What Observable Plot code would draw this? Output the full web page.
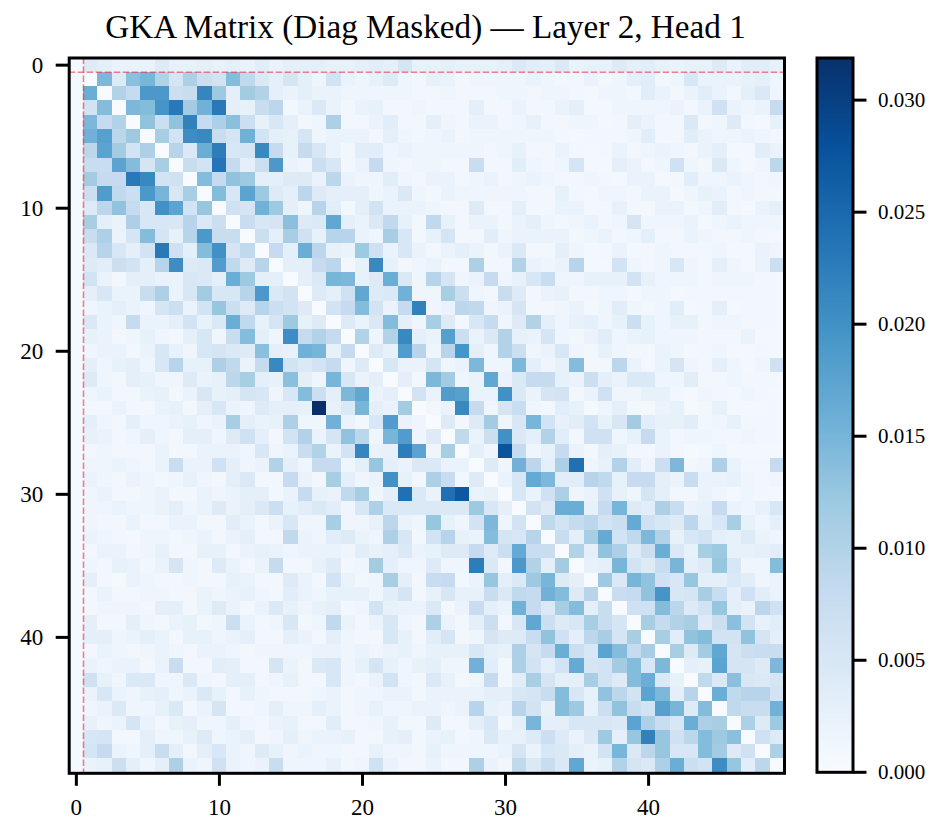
<!DOCTYPE html>
<html><head><meta charset="utf-8">
<script src="https://cdn.jsdelivr.net/npm/d3@7"></script>
<script src="https://cdn.jsdelivr.net/npm/@observablehq/plot@0.6"></script>
<style>
html,body{margin:0;padding:0;background:#fff}
#wrap{width:937px;height:827px;position:relative;overflow:hidden;font-family:"Liberation Serif",serif}
#title{position:absolute;z-index:2;left:0;top:0;width:851px;height:50px;text-align:center;font-size:33.2px;line-height:54px;color:#000;white-space:nowrap}
#row{position:absolute;left:0;top:40px;display:flex}
svg{display:block}
</style></head><body>
<div id="wrap"><div id="title"></div><div id="row"></div></div>
<script>
const titleText = "GKA Matrix (Diag Masked) — Layer 2, Head 1";
const unit = 0.001;
const vmax = 0.03188;
const xTicks = [0,10,20,30,40];
const yTicks = [0,10,20,30,40];
const cbTicks = [0,0.005,0.01,0.015,0.02,0.025,0.03];
const blues = ["#f7fbff","#deebf7","#c6dbef","#9ecae1","#6baed6","#4292c6","#2171b5","#08519c","#08306b"];
const guide = 0.5;

const r00=[.6,4,3,2,2,2,4,2.5,2.5,3,2.5,3,2,3.5,2,3,3,3,2.5,2.5,3,3.5,3,5.5,2.5,2.5,3,2.5,2.5,2.5,3,4.5,3.5,3,4.5,2,2.5,2.5,4,3,3.5,2.5,2,2.5,2.5,4,2,3.5,3.5,2.5];
const r01=[.6,0,14.5,4,13.5,15,10,5.5,10.5,7,6,14,8.5,4.5,3,5.5,3,1.5,6,2,1.5,2.5,4,1.5,1,2.5,2,1,1.5,1.5,1.5,1.5,2,1.5,1,1,2,1,1.5,3,3.5,1,1.5,5,2,2,2,2.5,3,1.5];
const r02=[.6,16,0,10,8,19,19,7,7.5,21.5,12,3,11.5,10,3,2,3,2,2,1.5,1.5,1.5,1.5,1.5,1,1,1.5,1,1,1,1.5,1.5,1,1.5,1.5,1,.7,1.5,1.5,1,3.5,2,1,2,3.5,2,1,3,4.5,1.5];
const r03=[.6,6,14,0,14.5,14,19.5,23,11.5,15.5,23,3,2.5,7.5,9,1,2,4.5,2,1,2,2.5,1,1,1.5,1,1,1,3,1,1,2,1,1,2,3,.7,.7,1.5,1.5,1.5,1.5,2,1,2,6.5,2,1.5,2,8];
const r04=[.6,14.5,8,10,0,13,7,13,22,8,10.5,13.5,7,2.5,5,3,1,1.5,10.5,1,1,2,3.5,1,1,3,1.5,1,2,2,1,1.5,2.5,1,1,1.5,1.5,.7,1,3,2,1,1,4.5,1,1.5,4,1,.8,2.5];
const r05=[.6,15.5,18,9,12,0,11,6,20.5,21,7.5,5.5,15.5,6,3,2.5,5.5,1.5,2,2,2,1,3,1.5,1,1.5,2,1,1.5,1.5,1.5,1.5,1.5,1.5,1,.8,1,1,1,1.5,3.5,1,1,3.5,2,1.5,1.5,2,1.5,1];
const r06=[.6,9,17.5,11.5,6,10.5,0,9.5,4.5,16,22.5,5,5.5,21,8,2.5,8,5,2,1,3.5,3.5,1.5,2,1.5,1.5,1.5,1.5,1.5,1,1.5,2.5,1,1,2,1,.7,1,2,1,1.5,2,1.5,1,2,3,.7,.7,3.5,2];
const r07=[.6,7.5,7.5,17.5,14,5.5,11,0,7.5,6,23.5,8,3,7,19,2,1.5,7,5,1,2,8,1.5,1,1.5,1.5,1,1,7.5,1,1,3.5,1.5,1,1.5,5.5,.8,.7,3,2,1,1.5,6.5,1.5,1,4.5,1.5,.8,1.5,9];
const r08=[.6,11.5,8,8,23,21,6,6.5,0,14,8,13,12,3,3,4,4,2,9,2,1.5,1.5,3.5,1.5,1,2,2,1,1.5,2,1,1.5,2,1.5,1,1,1.5,1,.8,2,2,.8,1,3.5,1.5,1.5,2,1.5,1,1.5];
const r09=[.6,7,18.5,8.5,7,19,15,5,11,0,14,5,17.5,12,4,3,9,4,3,3,3,1.5,2,4.5,1.5,1,2,1.5,1.5,1.5,1.5,1.5,1,1,2.5,1,.7,1.5,1.5,1,2,2,.7,1.5,2.5,2,1,1.5,1,1];
const r10=[.6,4,9,13,8,5,20,17.5,6,12.5,0,6.5,5.5,15.5,12,3,1.5,9.5,3.5,1,3,6,2,2,2,1.5,1,1,4,1,1,3,1,1,2,2,.7,1,2.5,1,1,2,2,1,1.5,3.5,1,.8,2,3];
const r11=[.6,11,3,2,10.5,5,5,5,9.5,4.5,7,0,7.5,5,5.5,13.5,4,4.5,17,3,2,4.5,8.5,2.5,1,8.5,2.5,1,2,2,1,2,3,1.5,1,1.5,2,1,1.5,5.5,1.5,1.5,1.5,2,.8,1.5,2,1.5,1.5,1.5];
const r12=[.6,7.5,10.5,2,5.5,14,5.5,2.5,9.5,19,7.5,7.5,0,7,3,11,6.5,2.5,9.5,9.5,2,1.5,11,5,1,2.5,5.5,1,1,3.5,1.5,2,2,2,2,1,1.5,2,1,1.5,3,1,1,2,1.5,1,1,1.5,1,.7];
const r13=[.6,4.5,9.5,5,3,6,23,6.5,3,14,20,5.5,8.5,0,8,3,16,9,2.5,2,12,6.5,2,5,2,1,2,3,2,1,2,4.5,1,1,3,1.5,.7,1,2,.7,1,1.5,1,1,1,1.5,.7,.7,2,1.5];
const r14=[.6,4,3.5,7,6,3,9.5,20.5,4,4.5,18.5,8.5,4,9.5,0,3,3,8,9,1,2.5,21,2.5,1,1.5,2,1,1,10.5,1,1,10,2,1.5,2,9.5,.8,.8,6,1.5,1,1.5,5,1.5,1,3,1.5,.7,2,7];
const r15=[.6,6,2,1,3,3,2,2,5,4.5,3,16,12,3,3,0,3,4.5,15,14.5,2.5,4,16,4.5,1.5,9.5,5.5,1.5,2,8,1.5,2.5,5,7.5,1.5,1.5,2.5,2.5,2.5,6,2.5,1.5,1.5,1.5,1,1.5,1.5,1.5,1,1];
const r16=[.6,3,5,2,2,7.5,10.5,2,5,11.5,5,5,9.5,19,4.5,6,0,4,3,6.5,17,4,4.5,15.5,1.5,1.5,11,7,1.5,1,7.5,4,1,2,2.5,1,1,1.5,1.5,.8,1.5,1.5,.7,1,1,1,1,1,1,1];
const r17=[.6,1.5,2,3,2,1.5,5.5,7,2,6,12.5,7,4,9.5,7,6,4,0,6,8,14,6,2,8,22,1.5,2,9,8.5,1.5,2,5.5,1,1,1.5,2,.7,1.5,3.5,1.5,1,1.5,3.5,.8,1,3,.8,1,1,1];
const r18=[.6,4.5,2,1.5,8,2,2,3,6,2.5,4.5,16,8.5,2.5,5.5,12,2.5,4,0,4,2,4.5,14,3,1.5,11,4,1,5,8,1.5,4,10,3,1.5,2.5,3,1.5,2.5,7,2.5,1.5,2.5,2.5,1,1.5,1.5,1,1,1];
const r19=[.6,2.5,2,1,1.5,2.5,1.5,1,3,5,1.5,7.5,14,3,1.5,20.5,8,10,8,0,10,1.5,10,21,3,2,18,7,2,4.5,10,2.5,2,5.5,1.5,1,2,3.5,1.5,2,2.5,1.5,1.5,1.5,1,1,1,2,.8,.7];
const r20=[.6,1.5,2,2,1,2,5,2.5,1.5,5,5.5,4.5,4,13.5,3,2.5,15.5,15,2.5,8,0,4,2.5,18.5,9.5,1.5,9.5,19.5,3,1.5,10,7,1.5,2,5,1.5,1,2.5,1.5,1,1,2,1.5,.7,1,1.5,.7,.8,1,.8];
const r21=[.6,3,1.5,2.5,3,1.5,5,9.5,2.5,2.5,10.5,8.5,2,8,21,6,4.5,6,8,1.5,4,0,5,2,2,5.5,1.5,2,14.5,1.5,1.5,14.5,3,1.5,2.5,14,1,1,9,2,1,2,5.5,1.5,1,3,1.5,.8,1.5,6.5];
const r22=[.6,4,1.5,1,3,2.5,1.5,1.5,4,2,2.5,9,11,3,2.5,13.5,3,1.5,15,5,2,3,0,3,1,14.5,11.5,1.5,2,17,2,4.5,8,8,2.5,2,7,3,2,4.5,4.5,1.5,1.5,3.5,1,1,1.5,1,1,1];
const r23=[.6,1.5,2,1,1,2,2.5,1,2,5,2.5,3,5.5,5,1.5,5,14,7,3,14.5,17,2,3,0,6,2,18.5,18,2,2,20,4.5,2,5.5,6,1,2,6.5,1.5,1.5,2.5,2.5,1,.8,1.5,1,.7,1.5,1,.7];
const r24=[.6,1,1,2,1,1,2,2.5,1,3,5,2,1.5,4,3,3,2.5,32,2.5,4.5,15,3,2,11.5,0,1,2,21,8,1.5,5.5,7.5,1.5,1,3.5,2.5,.5,1.5,3,1,.8,2,2.5,.5,1,2.5,.7,.8,.8,1];
const r25=[.6,3,1.5,1,3,1.5,1.5,2,2.5,1.5,2,11,3,2,2.5,10.5,1.5,1.5,15.5,2,1,5,18.5,2,1.5,0,4,1,4,11.5,1.5,5,15,6,2.5,3.5,6,2.5,5,11.5,3.5,2.5,2.5,3.5,1,1.5,2.5,1,1,1];
const r26=[.6,2.5,2,1,1.5,3,1.5,1,3,3,1.5,4,6.5,3,1,6,10,2,5.5,13,9,1.5,15,18.5,1.5,4,0,8.5,2,7,20,4.5,3,10,3.5,1,6.5,6.5,1.5,2.5,8,2,1,1.5,1.5,1,1,1.5,1,1];
const r27=[.6,1,1.5,1,1,1,2,1,1,2,2,2,1.5,5,1.5,2,7.5,10,2,6,21.5,2,2.5,22.5,17.5,1.5,11,0,3,1.5,27.5,8,1.5,2.5,8,2,1,3,2.5,1,1,2,1,.5,.8,1.5,.7,.8,.8,.8];
const r28=[.6,1.5,1.5,2,1.5,1,2,7.5,2,2,6.5,3,1.5,2,10,3,1.5,8,8,1.5,3,12.5,3,2,4.5,4.5,2,2,0,4,1.5,15.5,9,3,10.5,24,1.5,2.5,10,3.5,1.5,7,14.5,1,1.5,10.5,2,1,1,8];
const r29=[.6,2,1.5,1,2,1.5,1,1.5,2.5,1.5,1,3,4.5,1,1,8,2,1,11,3,1.5,2,20,2.5,1,10.5,7.5,1,4,0,2,5,16.5,14.5,3.5,3.5,9.5,8.5,2.5,8,8,3,2,7.5,2,2,2.5,1.5,1,1.5];
const r30=[.6,1.5,2,1,1,1.5,2,1,1,2,1.5,2,3,3,1,2,8,2.5,2,8.5,11,1.5,3,24,4.5,2,24,27,2,2.5,0,5,2,6.5,10.5,1.5,2,6.5,2.5,1.5,5.5,3,1,1,2,1.5,.7,1.5,1,.8];
const r31=[.6,1.5,1.5,2,1.5,1.5,2,3,1.5,2,4,2,3,4.5,7,2.5,3.5,4.5,3.5,1.5,5,10.5,4.5,4.5,4.5,4.5,4.5,4.5,12,5,3,0,6,4,16,16,2.5,8,15,4,3.5,10.5,7.5,2,2.5,8,2,1.5,2.5,5];
const r32=[.6,1.5,1,1,2,1,1,2,2,1,1,3.5,2,1,2,5,1.5,1.5,11,1.5,1.5,2.5,9,2,1.5,12.5,2.5,1.5,6,14.5,1.5,6,0,8.5,6,8,9,6,7,16.5,6.5,5,4,9,3,5,11,2.5,1.5,3];
const r33=[.6,2,1.5,1,.8,1.5,1.5,1,1.5,2,1,2,3,1,1,8.5,2,1.5,3.5,4,2,1.5,10.5,5,1,6,9.5,2.5,2,14,5.5,5,9.5,0,7.5,3,11,16.5,6,8.5,14.5,10,2.5,5,6,3,2.5,4,2,1.5];
const r34=[.6,1,2,2,1,1.5,2.5,1,1,2.5,2.5,1,2,2.5,2,1.5,2,2,2,1.5,3.5,2.5,3,4.5,2,2.5,4,4,8,4,7,16.5,7.5,7.5,0,10,3,13,10.5,4,7,16,4.5,2.5,11,12,2.5,2.5,3,3.5];
const r35=[.6,1.5,1,2.5,2,1,2,5.5,1.5,1,4,2,1,2,8,1,1,2.5,4,1,1.5,11.5,3,1.5,1.5,4,1.5,1.5,22.5,4.5,1,19,10,3,11.5,0,2.5,3,15,6,4,7.5,15,3,4,12.5,5,1.5,1.5,14];
const r36=[.6,3,1,.5,2,1.5,1,1,1.5,1,1,2.5,2,1,1,4,2,1,6,2,1,1.5,11,3,1,7.5,8,1,2,12.5,3,4.5,12,15,4,3,0,12,4.5,15,13,6.5,5,12.5,3,3,4.5,3.5,1.5,2];
const r37=[.6,1,2,1,1,1.5,1.5,1,1,2,1.5,2,2.5,1.5,1,3.5,2,1.5,2.5,2.5,2.5,1.5,3.5,5.5,1,2.5,5,2.5,2.5,7.5,4.5,8.5,8,15.5,14,4,9.5,0,7.5,8,13,19.5,5,5.5,11,7.5,3,6.5,3.5,2];
const r38=[.6,1,1.5,1.5,1.5,1,3,3,1,2,4,2,1,2,4.5,2.5,1.5,2.5,3,1,1.5,6,2.5,2,2,4.5,1,2,7.5,3,2,15.5,8,4.5,11,14,3,7.5,0,6.5,6.5,14,9,4,6,12.5,3,2,9,6.5];
const r39=[.6,3,1,1,3,1.5,1,2,2.5,1,1.5,7,2,1,1.5,5,1,1.5,8.5,2,1,2,5,1.5,1,10.5,2,1,3,7,1,5,17,7,4,5,11,7.5,5.5,0,11,8,10,11,4,7,13.5,6,2.5,3.5];
const r40=[.6,3,3,1.5,2,3,2,1,2.5,2.5,1.5,2,3,1,1,3,2,1,3,1.5,1,1,5,2.5,1,3.5,5.5,1,1.5,5.5,4,4,7.5,13,6.5,3,9,11,5.5,11,0,11,3.5,13,14,6,6,13,5.5,3];
const r41=[.6,1,2,1.5,1,1.5,2,1.5,1,2,2,1.5,1,1.5,1.5,1.5,1.5,2,2,1.5,2,1.5,2,2.5,1.5,2.5,2.5,2.5,5,3,2.5,10.5,5.5,8,16,7,5,17.5,14,8,11,0,11,4,11.5,17,5.5,7,7.5,7.5];
const r42=[.6,2,1.5,2,2,1,2,7.5,1,1,3.5,3,1,1,5.5,2,1,4.5,5,1.5,2.5,5.5,2.5,1.5,2.5,3,1.5,1.5,15.5,3.5,1,10.5,6,3,6,16.5,5.5,6,11.5,14,5,14.5,0,3,2.5,17.5,5.5,5.5,4,14.5];
const r43=[.6,6.5,2.5,1.5,4.5,4.5,1.5,1.5,4.5,1.5,1,3,3,1,1.5,2.5,1,1,5,1.5,1,2,6,1.5,1,4.5,2.5,1,1.5,8,1,3.5,11,5.5,3,3,11,6,4,14,16,4.5,2.5,0,8.5,4.5,13.5,5,4.5,5.5];
const r44=[.6,2,5,2,1.5,2.5,3,1.5,2,4.5,2.5,1,2.5,1.5,1,1,1,1.5,2,1,1.5,1.5,2,2,1,2,2,2,2,3,3,5,5.5,7.5,14,5,2.5,13,9,6,17.5,14.5,3,9.5,0,16,8.5,9.5,9.5,6];
const r45=[.6,1.5,2,4.5,1.5,1.5,2.5,4.5,1,2,5.5,1,1,1.5,3,1.5,1.5,3,2,1,1.5,2.5,1.5,1.5,2,2,1.5,2,9.5,2.5,2,9.5,6,2.5,14,12,2.5,7,13,7.5,6,18,15,4,14,0,8.5,7.5,7.5,15.5];
const r46=[.6,2.5,1.5,2,5.5,2,1,2.5,3,1.5,1.5,3,1.5,1,2,2.5,1,1,3.5,1,1,1.5,2.5,1,1,4,1,1,3,5,1,3,15,3,3,5,5,5,4.5,17.5,10.5,7.5,5,16,10.5,11,0,10.5,4,12];
const r47=[.6,5,5.5,1,1,3,1.5,1.5,2.5,4,1.5,2,3,1,1.5,3,1.5,2,2,2.5,1,1,2.5,3,1,2,2.5,1,1.5,4.5,2.5,2.5,4,7,4,2,4.5,12,3,12.5,22,12.5,6.5,9,14,12,13.5,0,6.5,4];
const r48=[.6,5.5,8,2,1.5,3,7.5,3,1,3,5,2,1.5,4,2.5,1.5,2,1.5,1.5,1,1,2.5,1.5,1.5,1,2.5,1.5,1.5,1.5,1.5,2,5.5,2,5,4.5,3,2,6,15,4.5,9,12.5,5,5,14,11.5,4,6.5,0,10.5];
const r49=[.6,2,2.5,7,3,1.5,3,10.5,2,1.5,6.5,2,1.5,2,7.5,1.5,1.5,1.5,2.5,1,1.5,6.5,2,1,1,2,1,1,10.5,2,1,8.5,4.5,7.5,4.5,17,2,2.5,10,5.5,4.5,10.5,16,7,6,20.5,12.5,3.5,9,0];

const rows=[r00,r01,r02,r03,r04,r05,r06,r07,r08,r09,r10,r11,r12,r13,r14,r15,r16,r17,r18,r19,r20,r21,r22,r23,r24,r25,r26,r27,r28,r29,r30,r31,r32,r33,r34,r35,r36,r37,r38,r39,r40,r41,r42,r43,r44,r45,r46,r47,r48,r49];

const cells = rows.flatMap((r,i)=>r.map((v,j)=>({i,j,v:v*unit})));
const colorScale = {type:"linear",domain:blues.map((_,k)=>vmax*k/8),range:blues,interpolate:"rgb"};
const font = '"Liberation Serif", serif';
const lw = 3;

document.getElementById("title").textContent = titleText;

const main = Plot.plot({
  width:805, height:787,
  marginLeft:68.7, marginRight:21, marginTop:17.5, marginBottom:54.2,
  style:{fontFamily:font,background:"transparent",color:"#000",overflow:"visible"},
  x:{domain:[-0.5,49.5]},
  y:{domain:[49.5,-0.5]},
  color:colorScale,
  marks:[
    Plot.rect(cells,{x1:d=>d.j-0.5,x2:d=>d.j+0.5,y1:d=>d.i-0.5,y2:d=>d.i+0.5,fill:"v",shapeRendering:"crispEdges"}),
    Plot.ruleX([guide],{stroke:"#f0303f",strokeOpacity:0.6,strokeWidth:1.6,strokeDasharray:"6.5,2.5"}),
    Plot.ruleY([guide],{stroke:"#f0303f",strokeOpacity:0.6,strokeWidth:1.6,strokeDasharray:"6.5,2.5"}),
    Plot.frame({stroke:"#000",strokeWidth:lw}),
    Plot.axisX({anchor:"bottom",ticks:xTicks,tickSize:13,tickPadding:12,fontSize:23,strokeWidth:lw,label:null,tickFormat:d=>String(d)}),
    Plot.axisY({anchor:"left",ticks:yTicks,tickSize:13,tickPadding:13,fontSize:23,strokeWidth:lw,label:null,tickFormat:d=>String(d)})
  ]
});

const ramp = d3.range(256).map(k=>({a:vmax*k/256,b:vmax*(k+1)/256}));
const bar = Plot.plot({
  width:132, height:787,
  marginLeft:11.5, marginRight:84.5, marginTop:17.5, marginBottom:55.2,
  style:{fontFamily:font,background:"transparent",color:"#000",overflow:"visible"},
  x:{domain:[0,1],axis:null},
  y:{domain:[0,vmax]},
  color:colorScale,
  marks:[
    Plot.rect(ramp,{x1:0,x2:1,y1:"a",y2:"b",fill:d=>(d.a+d.b)/2,shapeRendering:"crispEdges"}),
    Plot.frame({stroke:"#000",strokeWidth:lw}),
    Plot.axisY({anchor:"right",ticks:cbTicks,tickSize:13,tickPadding:12,fontSize:21,strokeWidth:lw,label:null,tickFormat:d3.format(".3f")})
  ]
});
document.getElementById("row").append(main,bar);
</script>
</body></html>
